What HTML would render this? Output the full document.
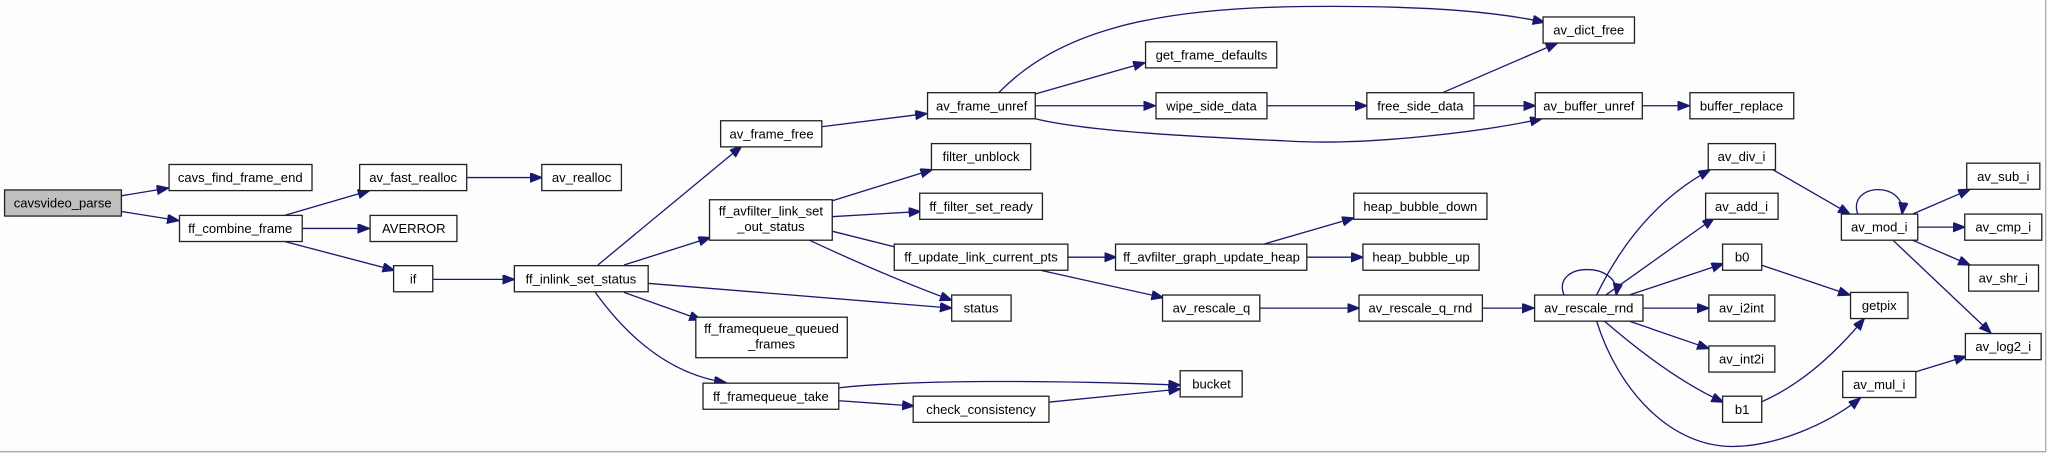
<!DOCTYPE html>
<html><head><meta charset="utf-8"><style>
html,body{margin:0;padding:0;background:#fcfdfc;}
svg{display:block}
text{font-family:"Liberation Sans",sans-serif;font-size:10px;fill:#000;text-anchor:middle}
.n{fill:#fff;stroke:#222;stroke-width:1}
.e{fill:none;stroke:#191970;stroke-width:1}
</style></head><body>
<svg width="2047" height="453" viewBox="0 0 1568 347" preserveAspectRatio="none">
<defs><marker id="a" markerUnits="userSpaceOnUse" markerWidth="10" markerHeight="8" refX="9" refY="3.5" orient="auto"><path d="M0,0 L9,3.5 L0,7 z" fill="#191970" stroke="#191970"/></marker></defs>
<rect x="0" y="0" width="1568" height="347" fill="#fcfdfc"/>
<line x1="0" y1="346" x2="1567" y2="346" stroke="#a8a8b8"/>
<line x1="1567" y1="0" x2="1567" y2="346" stroke="#a8a8b8"/>
<g marker-end="url(#a)" class="e">
<path d="M93,150 L129,144"/>
<path d="M93,162 L137,169"/>
<path d="M218,165 L283,146"/>
<path d="M358,136 L415,136"/>
<path d="M232,175 L283,175"/>
<path d="M218,185 L302,207"/>
<path d="M332,214 L394,214"/>
<path d="M458,203 L568,112"/>
<path d="M478,203 L544,182"/>
<path d="M496,217 L729,236"/>
<path d="M478,224 L537,245"/>
<path d="M456,224 Q500,285 556,293"/>
<path d="M630,97 L710,87"/>
<path d="M765,71 C810,25 880,6 1000,5 C1100,4 1150,10 1183,17"/>
<path d="M793,72 L877,48"/>
<path d="M793,81 L885,81"/>
<path d="M793,91 C830,100 900,104 986,108 C1050,112 1140,100 1181,91"/>
<path d="M970,81 L1047,81"/>
<path d="M1105,71 L1193,33"/>
<path d="M1129,81 L1176,81"/>
<path d="M1258,81 L1294,81"/>
<path d="M637,154 L714,130"/>
<path d="M637,166 L705,162"/>
<path d="M637,177 L697,192"/>
<path d="M620,184 Q680,212 729,230"/>
<path d="M818,197 L855,197"/>
<path d="M797,207 L891,228"/>
<path d="M968,187 L1037,167"/>
<path d="M1001,197 L1044,197"/>
<path d="M965,236 L1041,236"/>
<path d="M1135,236 L1175,236"/>
<path d="M643,297 C700,291 800,291 904,295"/>
<path d="M643,307 L700,311"/>
<path d="M804,308 L904,298"/>
<path d="M1198,226 C1188,200 1242,200 1238,226"/>
<path d="M1223,226 Q1255,160 1310,130"/>
<path d="M1230,226 L1313,167"/>
<path d="M1248,226 L1320,202"/>
<path d="M1258,236 L1309,236"/>
<path d="M1248,246 L1309,267"/>
<path d="M1229,246 Q1280,290 1320,308"/>
<path d="M1223,246 C1240,300 1280,342 1327,342 C1360,342 1400,325 1425,305"/>
<path d="M1358,130 L1417,164"/>
<path d="M1349,203 L1417,226"/>
<path d="M1349,308 Q1390,290 1428,244"/>
<path d="M1423,164 C1415,140 1460,138 1457,164"/>
<path d="M1465,164 L1509,145"/>
<path d="M1469,174 L1505,174"/>
<path d="M1465,184 L1509,203"/>
<path d="M1450,184 L1525,255"/>
<path d="M1467,285 L1506,273"/>
</g>
<g>
<rect class="n" x="3.5" y="145.5" width="89.5" height="20" style="fill:#bfbfbf"/><text x="48" y="159">cavsvideo_parse</text>
<rect class="n" x="129.5" y="126" width="109.5" height="20"/><text x="184" y="139.5">cavs_find_frame_end</text>
<rect class="n" x="137.5" y="165" width="94" height="20"/><text x="184" y="178.5">ff_combine_frame</text>
<rect class="n" x="275.5" y="126" width="82" height="20"/><text x="316.5" y="139.5">av_fast_realloc</text>
<rect class="n" x="415" y="126" width="61" height="20"/><text x="445.5" y="139.5">av_realloc</text>
<rect class="n" x="283.5" y="165" width="66.5" height="20"/><text x="317" y="178.5">AVERROR</text>
<rect class="n" x="301.5" y="203.5" width="30" height="20"/><text x="316.5" y="217">if</text>
<rect class="n" x="394" y="203.5" width="102.5" height="20"/><text x="445" y="217">ff_inlink_set_status</text>
<rect class="n" x="552" y="92.5" width="77.5" height="20"/><text x="591" y="106">av_frame_free</text>
<rect class="n" x="710.5" y="71" width="82.5" height="20"/><text x="752" y="84.5">av_frame_unref</text>
<rect class="n" x="877.5" y="32" width="100.5" height="20"/><text x="928" y="45.5">get_frame_defaults</text>
<rect class="n" x="885.5" y="71" width="85" height="20"/><text x="928" y="84.5">wipe_side_data</text>
<rect class="n" x="1047" y="71" width="82" height="20"/><text x="1088" y="84.5">free_side_data</text>
<rect class="n" x="1182" y="13" width="70" height="20"/><text x="1217" y="26.5">av_dict_free</text>
<rect class="n" x="1176" y="71" width="82" height="20"/><text x="1217" y="84.5">av_buffer_unref</text>
<rect class="n" x="1294.5" y="71" width="79.5" height="20"/><text x="1334" y="84.5">buffer_replace</text>
<rect class="n" x="713.5" y="110" width="76" height="20"/><text x="751.5" y="123.5">filter_unblock</text>
<rect class="n" x="543.5" y="153" width="94" height="31"/><text x="590.5" y="165">ff_avfilter_link_set</text><text x="590.5" y="177">_out_status</text>
<rect class="n" x="704.5" y="148" width="94" height="20"/><text x="751.5" y="161.5">ff_filter_set_ready</text>
<rect class="n" x="685" y="187" width="133" height="20"/><text x="751.5" y="200.5">ff_update_link_current_pts</text>
<rect class="n" x="854.5" y="187" width="146.5" height="20"/><text x="928" y="200.5">ff_avfilter_graph_update_heap</text>
<rect class="n" x="1037" y="148" width="102" height="20"/><text x="1088" y="161.5">heap_bubble_down</text>
<rect class="n" x="1044" y="187" width="89" height="20"/><text x="1088.5" y="200.5">heap_bubble_up</text>
<rect class="n" x="729" y="226" width="45.5" height="20"/><text x="751.5" y="239.5">status</text>
<rect class="n" x="890.5" y="226" width="74.5" height="20"/><text x="928" y="239.5">av_rescale_q</text>
<rect class="n" x="1041" y="226" width="94.5" height="20"/><text x="1088" y="239.5">av_rescale_q_rnd</text>
<rect class="n" x="533" y="243" width="116" height="31"/><text x="591" y="255">ff_framequeue_queued</text><text x="591" y="267">_frames</text>
<rect class="n" x="538.5" y="293.5" width="104" height="20"/><text x="590.5" y="307">ff_framequeue_take</text>
<rect class="n" x="699.5" y="303.5" width="104" height="20"/><text x="751.5" y="317">check_consistency</text>
<rect class="n" x="904" y="284" width="47.5" height="20"/><text x="928" y="297.5">bucket</text>
<rect class="n" x="1175.5" y="226" width="83" height="20"/><text x="1217" y="239.5">av_rescale_rnd</text>
<rect class="n" x="1308.5" y="110" width="51.5" height="20"/><text x="1334" y="123.5">av_div_i</text>
<rect class="n" x="1306.5" y="148" width="55.5" height="20"/><text x="1334" y="161.5">av_add_i</text>
<rect class="n" x="1319.5" y="187" width="30" height="20"/><text x="1334.5" y="200.5">b0</text>
<rect class="n" x="1309" y="226" width="50.5" height="20"/><text x="1334" y="239.5">av_i2int</text>
<rect class="n" x="1309" y="265" width="50.5" height="20"/><text x="1334" y="278.5">av_int2i</text>
<rect class="n" x="1319.5" y="303.5" width="30" height="20"/><text x="1334.5" y="317">b1</text>
<rect class="n" x="1417.5" y="224" width="44" height="20"/><text x="1439.5" y="237.5">getpix</text>
<rect class="n" x="1411.5" y="284.5" width="56" height="20"/><text x="1439.5" y="298">av_mul_i</text>
<rect class="n" x="1410.5" y="164" width="58.5" height="20"/><text x="1439.5" y="177.5">av_mod_i</text>
<rect class="n" x="1506.5" y="125" width="56" height="20"/><text x="1534.5" y="138.5">av_sub_i</text>
<rect class="n" x="1505" y="164" width="59" height="20"/><text x="1534.5" y="177.5">av_cmp_i</text>
<rect class="n" x="1508" y="203" width="53.5" height="20"/><text x="1534.5" y="216.5">av_shr_i</text>
<rect class="n" x="1505.5" y="255.5" width="58" height="20"/><text x="1534.5" y="269">av_log2_i</text>
</g>
</svg>
</body></html>
